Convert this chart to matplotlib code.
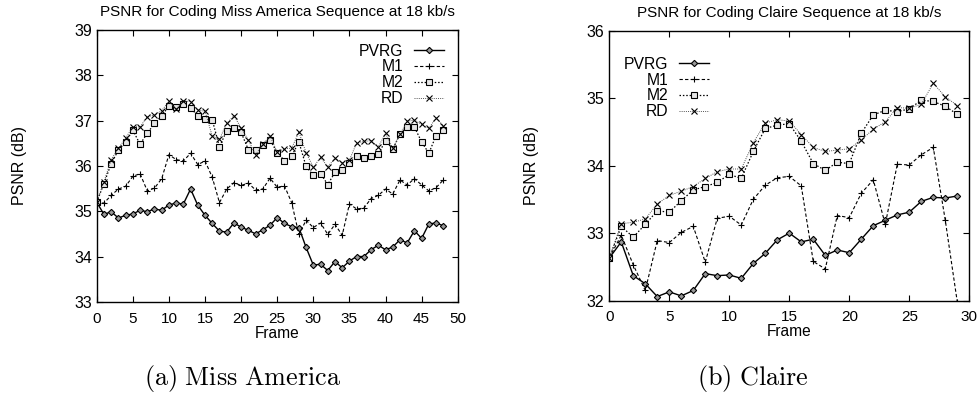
import numpy as np
import matplotlib.pyplot as plt

plt.rcParams['font.family'] = ['Liberation Sans', 'DejaVu Sans']
plt.rcParams['mathtext.fontset'] = 'cm'

# Miss America sequence, frames 0..48
ma_frames = np.arange(49)
ma_pvrg = [35.2, 34.93, 34.99, 34.85, 34.91, 34.94, 35.02, 34.99, 35.05, 35.02,
           35.14, 35.18, 35.16, 35.49, 35.13, 34.91, 34.73, 34.56, 34.54, 34.74,
           34.65, 34.58, 34.50, 34.59, 34.69, 34.86, 34.73, 34.66, 34.64, 34.20,
           33.81, 33.83, 33.69, 33.89, 33.75, 33.90, 34.00, 34.00, 34.15, 34.25,
           34.15, 34.21, 34.37, 34.30, 34.57, 34.40, 34.72, 34.74, 34.68]
ma_m1 = [35.2, 35.18, 35.35, 35.49, 35.55, 35.77, 35.83, 35.45, 35.51, 35.72,
         36.25, 36.14, 36.11, 36.28, 36.03, 36.11, 35.75, 35.19, 35.49, 35.63,
         35.57, 35.62, 35.47, 35.49, 35.73, 35.53, 35.56, 35.19, 34.49, 34.80,
         34.64, 34.74, 34.49, 34.71, 34.47, 35.16, 35.05, 35.07, 35.28, 35.35,
         35.49, 35.38, 35.69, 35.58, 35.72, 35.58, 35.45, 35.52, 35.69]
ma_m2 = [35.2, 35.61, 36.05, 36.35, 36.53, 36.79, 36.48, 36.72, 36.94, 37.11,
         37.32, 37.31, 37.36, 37.28, 37.11, 37.03, 37.02, 36.42, 36.78, 36.84,
         36.74, 36.36, 36.36, 36.46, 36.58, 36.29, 36.12, 36.22, 36.53, 35.99,
         35.79, 35.83, 35.59, 35.86, 35.90, 36.06, 36.23, 36.17, 36.22, 36.26,
         36.56, 36.37, 36.70, 36.87, 36.86, 36.53, 36.28, 36.67, 36.80]
ma_rd = [35.2, 35.65, 36.14, 36.39, 36.61, 36.87, 36.86, 37.09, 37.12, 37.22,
         37.43, 37.25, 37.44, 37.42, 37.23, 37.21, 36.66, 36.59, 36.94, 37.11,
         36.84, 36.57, 36.25, 36.48, 36.66, 36.31, 36.38, 36.39, 36.75, 36.29,
         35.97, 36.19, 35.98, 36.17, 36.07, 36.13, 36.51, 36.54, 36.56, 36.42,
         36.72, 36.39, 36.70, 36.99, 37.01, 36.92, 36.83, 37.06, 36.89]

# Claire sequence, frames 0..29
cl_frames = np.arange(30)
cl_pvrg = [32.63, 32.87, 32.37, 32.25, 32.06, 32.13, 32.07, 32.15, 32.40, 32.37,
           32.38, 32.33, 32.55, 32.70, 32.90, 33.00, 32.87, 32.91, 32.67, 32.75,
           32.71, 32.91, 33.11, 33.19, 33.27, 33.31, 33.47, 33.53, 33.52, 33.55]
cl_m1 = [32.63, 32.97, 32.53, 32.15, 32.89, 32.86, 33.01, 33.10, 32.57, 33.22,
         33.25, 33.12, 33.50, 33.71, 33.82, 33.84, 33.70, 32.58, 32.47, 33.26,
         33.23, 33.59, 33.79, 33.13, 34.02, 34.01, 34.16, 34.27, 33.19, 31.98]
cl_m2 = [32.63, 33.10, 32.94, 33.13, 33.33, 33.31, 33.48, 33.64, 33.69, 33.75,
         33.87, 33.81, 34.21, 34.55, 34.60, 34.62, 34.36, 34.03, 33.93, 34.05,
         34.03, 34.48, 34.75, 34.82, 34.80, 34.84, 34.97, 34.95, 34.88, 34.76]
cl_rd = [32.63, 33.14, 33.16, 33.21, 33.43, 33.56, 33.62, 33.69, 33.81, 33.91,
         33.95, 33.95, 34.34, 34.63, 34.68, 34.66, 34.46, 34.27, 34.21, 34.23,
         34.25, 34.38, 34.54, 34.65, 34.86, 34.85, 34.91, 35.22, 35.02, 34.89]

labels = ['PVRG', 'M1', 'M2', 'RD']
styles = [
    dict(color='black', ls='-', lw=1.0, marker='D', ms=3.2, mfc='#999999', mec='black', mew=0.8),
    dict(color='black', ls=(0, (3, 2)), lw=0.8, marker='+', ms=5, mew=0.8),
    dict(color='black', ls=(0, (1.2, 1.5)), lw=0.9, marker='s', ms=4.2, mfc='#e6e6e6', mec='black', mew=0.8),
    dict(color='#555555', ls=(0, (1, 1.2)), lw=0.7, marker='x', ms=4.2, mec='black', mew=0.8),
]


def draw(ax, frames, series, title, xmax, ylim, legend_kw):
    for y, lab, st in zip(series, labels, styles):
        ax.plot(frames, y, label=lab, **st)
    ax.set_xlim(0, xmax)
    ax.set_ylim(*ylim)
    ax.set_xticks(np.arange(0, xmax + 1, 5))
    ax.set_yticks(np.arange(ylim[0], ylim[1] + 1, 1))
    ax.tick_params(direction='in', top=True, right=True, length=4, width=0.8,
                   labelsize=11.5)
    ax.tick_params(axis='x', pad=7, labelsize=11)
    for s in ax.spines.values():
        s.set_linewidth(1.0)
    ax.set_title(title, fontsize=11, pad=10)
    ax.set_xlabel('Frame', fontsize=11.2, labelpad=0)
    ax.set_ylabel('PSNR (dB)', fontsize=11.5, labelpad=34)
    ax.legend(frameon=False, markerfirst=False, fontsize=11.3, handlelength=1.9,
              handletextpad=0.7, labelspacing=0.05, borderpad=0, borderaxespad=0,
              **legend_kw)


fig = plt.figure(figsize=(9.77, 3.94), dpi=100)
ax1 = fig.add_axes([0.099, 0.234, 0.3695, 0.6896])
ax2 = fig.add_axes([0.6236, 0.237, 0.3685, 0.6853])

draw(ax1, ma_frames, [ma_pvrg, ma_m1, ma_m2, ma_rd],
     'PSNR for Coding Miss America Sequence at 18 kb/s', 50, (33, 39),
     dict(loc='upper right', bbox_to_anchor=(0.962, 0.95)))
draw(ax2, cl_frames, [cl_pvrg, cl_m1, cl_m2, cl_rd],
     'PSNR for Coding Claire Sequence at 18 kb/s', 30, (32, 36),
     dict(loc='upper left', bbox_to_anchor=(0.04, 0.903)))

fig.text(0.248, 0.04, r'$\mathrm{(a)\ Miss\ America}$', ha='center', va='center', fontsize=18.8)
fig.text(0.771, 0.04, r'$\mathrm{(b)\ Claire}$', ha='center', va='center', fontsize=18.8)

fig.savefig('out.png', dpi=100)
